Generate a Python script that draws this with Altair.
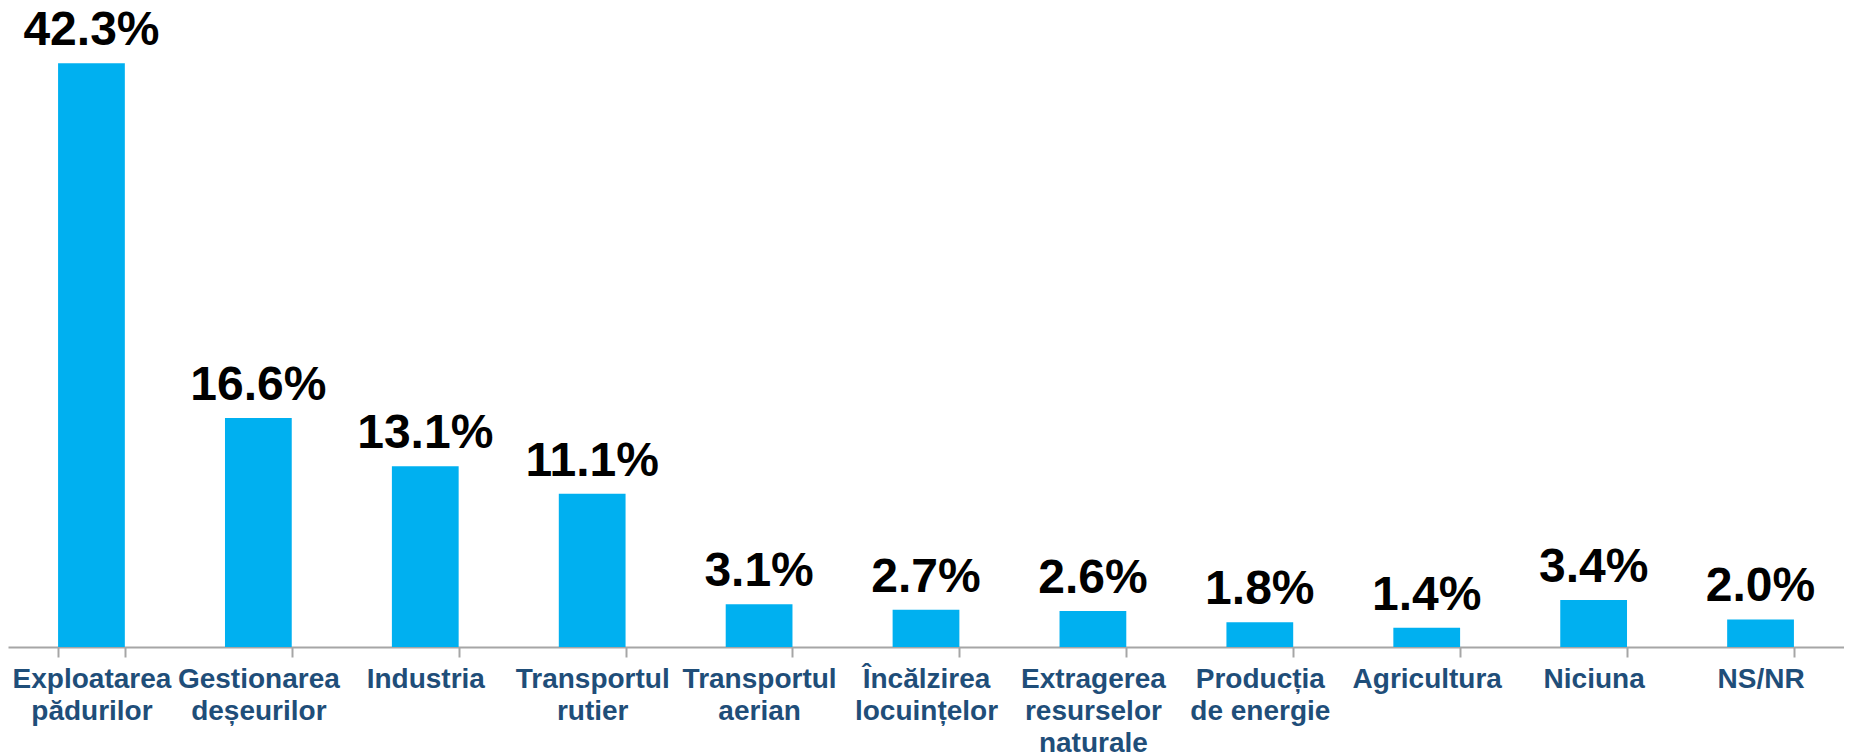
import altair as alt
import pandas as pd

categories = [
    "Exploatarea|pădurilor",
    "Gestionarea|deșeurilor",
    "Industria",
    "Transportul|rutier",
    "Transportul|aerian",
    "Încălzirea|locuințelor",
    "Extragerea|resurselor|naturale",
    "Producția|de energie",
    "Agricultura",
    "Niciuna",
    "NS/NR",
]
values = [42.3, 16.6, 13.1, 11.1, 3.1, 2.7, 2.6, 1.8, 1.4, 3.4, 2.0]

df = pd.DataFrame({"cat": categories, "val": values})

FONT = "Liberation Sans"

x = alt.X(
    "cat:N",
    sort=categories,
    title=None,
    scale=alt.Scale(paddingInner=0.6, paddingOuter=0.3),
    axis=alt.Axis(
        labelExpr="split(datum.label, '|')",
        labelAngle=0,
        labelFont=FONT,
        labelFontSize=28,
        labelFontWeight="bold",
        labelColor="#1F4E79",
        labelLineHeight=32,
        labelOverlap=False,
        labelLimit=400,
        labelPadding=8,
        labelBaseline="top",
        tickBand="extent",
        tickSize=10,
        tickColor="#A6A6A6",
        tickWidth=2,
        domainColor="#A6A6A6",
        domainWidth=2,
        grid=False,
    ),
)
y = alt.Y("val:Q", scale=alt.Scale(domain=[0, 45.43], nice=False), axis=None)

bars = alt.Chart(df).mark_bar(color="#00B0F0").encode(x=x, y=y)

text = (
    alt.Chart(df)
    .transform_calculate(lab="format(datum.val, '.1f') + '%'")
    .mark_text(
        font=FONT,
        fontSize=48,
        fontWeight="bold",
        color="black",
        baseline="alphabetic",
        dy=-18,
    )
    .encode(x=x, y=y, text="lab:N")
)

chart = (
    (bars + text)
    .properties(
        width=1836,
        height=627,
        padding={"left": 0, "right": 0, "top": 12, "bottom": 113},
        autosize=alt.AutoSizeParams(type="none"),
    )
    .configure(background="white")
    .configure_view(strokeWidth=0, stroke=None)
)

chart.save("out.html", embed_options={"renderer": "svg", "actions": False})
